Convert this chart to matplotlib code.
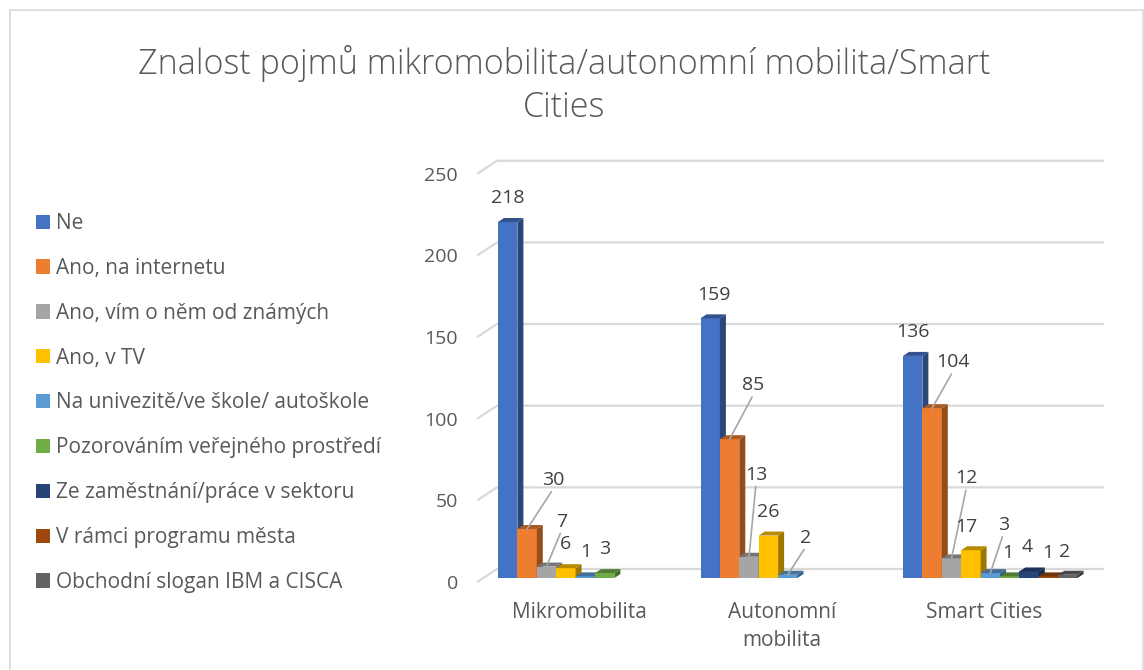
import numpy as np
import matplotlib
matplotlib.use("Agg")
import matplotlib.pyplot as plt
from matplotlib.patches import Polygon, Rectangle, Patch

plt.rcParams['font.family'] = ['Open Sans', 'DejaVu Sans']

# data
categories = ["Mikromobilita", "Autonomní\nmobilita", "Smart Cities"]
series = ["Ne", "Ano, na internetu", "Ano, vím o něm od známých", "Ano, v TV",
          "Na univezitě/ve škole/ autoškole", "Pozorováním veřejného prostředí",
          "Ze zaměstnání/práce v sektoru", "V rámci programu města",
          "Obchodní slogan IBM a CISCA"]
mikromobilita = [218, 30, 7, 6, 1, 3, None, None, None]
autonomni = [159, 85, 13, 26, 2, None, None, None, None]
smart_cities = [136, 104, 12, 17, 3, 1, 4, 1, 2]
values = [mikromobilita, autonomni, smart_cities]
yticks = [0, 50, 100, 150, 200, 250]

colors = ["#4472C4", "#ED7D31", "#A5A5A5", "#FFC000", "#5B9BD5",
          "#70AD47", "#264478", "#9E480E", "#636363"]

# label offsets in pixels (dx, dy) and which ones get leader lines
label_off = {
    (0, 1): (26, 49, True), (0, 2): (15, 45, True),
    (1, 0): (4, 23, False), (1, 1): (24, 54, True), (1, 2): (7, 82, True),
    (1, 4): (18, 37, True),
    (2, 1): (21, 46, True), (2, 2): (15, 80, True), (2, 3): (-5, 23, False),
    (2, 4): (13, 48, True), (2, 5): (-2, 23, False), (2, 6): (-2, 24, False),
    (2, 7): (-1, 23, False), (2, 8): (-3, 23, False),
}

W, H = 1144, 670
fig = plt.figure(figsize=(W / 100, H / 100), dpi=100)

# pixel helpers (image pixels, y from top)
GAP = 202.5          # px between category centers
KY = 1.633           # px per value unit
C0 = 585.5           # px of first category center
Y0 = 578             # px of value 0 (front)


def px2x(p):
    return (p - C0) / GAP


def py2y(p):
    return (Y0 - p) / KY


ylo, yhi = -10, 262
ax = fig.add_axes([478 / W, (H - Y0 + ylo * KY) / H, 632 / W, (yhi - ylo) * KY / H])
ax.set_xlim(px2x(478), px2x(1110))
ax.set_ylim(ylo, yhi)
ax.axis('off')

# outer border
fig.patches.append(Rectangle((9.5 / W, -0.05), 1133 / W, (H - 9.5) / H + 0.05,
                             transform=fig.transFigure, fill=False,
                             edgecolor="#d9d9d9", lw=1.2))

# back-wall gridlines
back = 9 / KY
for v in yticks:
    yb = v + back
    ax.plot([px2x(478), px2x(497), px2x(1103)], [yb - 12.5 / KY, yb, yb],
            color="#d9d9d9", lw=1.6, zorder=1, clip_on=False)
    ax.text(px2x(458), v - 6 / KY, str(v), ha='right', va='center',
            fontsize=14, color="#595959", clip_on=False)

# bars with fake depth
n = len(series)
bw = 19.4 / GAP
ddx, ddy = 6 / GAP, 4 / KY
start = -87.5 / GAP
for c, vals in enumerate(values):
    for i, v in enumerate(vals):
        if v is None:
            continue
        x = c + start + bw * (i + 0.5)
        z = 2 + c + i * 0.05
        col = np.array(matplotlib.colors.to_rgb(colors[i]))
        ax.bar(x, v, width=bw, color=colors[i], zorder=z, lw=0)
        side = [(x + bw / 2, 0), (x + bw / 2 + ddx, ddy),
                (x + bw / 2 + ddx, v + ddy), (x + bw / 2, v)]
        top = [(x - bw / 2, v), (x + bw / 2, v),
               (x + bw / 2 + ddx, v + ddy), (x - bw / 2 + ddx, v + ddy)]
        ax.add_patch(Polygon(side, closed=True, color=col * 0.62, lw=0, zorder=z))
        ax.add_patch(Polygon(top, closed=True, color=col * 0.72, lw=0, zorder=z))

        dx, dy, lead = label_off.get((c, i), (0, 24, False))
        kw = {}
        if lead:
            kw['arrowprops'] = dict(arrowstyle='-', color="#a6a6a6", lw=1.2,
                                    shrinkA=0, shrinkB=0, relpos=(0.5, 0))
        ax.annotate(str(v), xy=(x, v), xytext=(dx, dy), textcoords='offset pixels',
                    ha='center', va='center', fontsize=14, color="#404040",
                    zorder=20, **kw)

# category labels
for c, name in enumerate(categories):
    ax.text(c + px2x(C0 - 6), py2y(602), name, ha='center', va='top',
            fontsize=15, color="#595959", linespacing=1.45, clip_on=False)

# title
fig.text(564 / W, 1 - 85 / H,
         "Znalost pojmů mikromobilita/autonomní mobilita/Smart\nCities",
         ha='center', va='center', fontsize=24.6, color="#595959",
         linespacing=1.33, fontweight='light')

# legend
handles = [Patch(facecolor=colors[i], edgecolor='none') for i in range(n)]
fig.legend(handles, series, loc='upper left', bbox_to_anchor=(36 / W, 1 - 213 / H),
           frameon=False, fontsize=15, handlelength=0.68, handleheight=0.68,
           handletextpad=0.28, labelspacing=1.145, borderpad=0, borderaxespad=0,
           labelcolor="#595959")

fig.savefig("out.png", dpi=100)
